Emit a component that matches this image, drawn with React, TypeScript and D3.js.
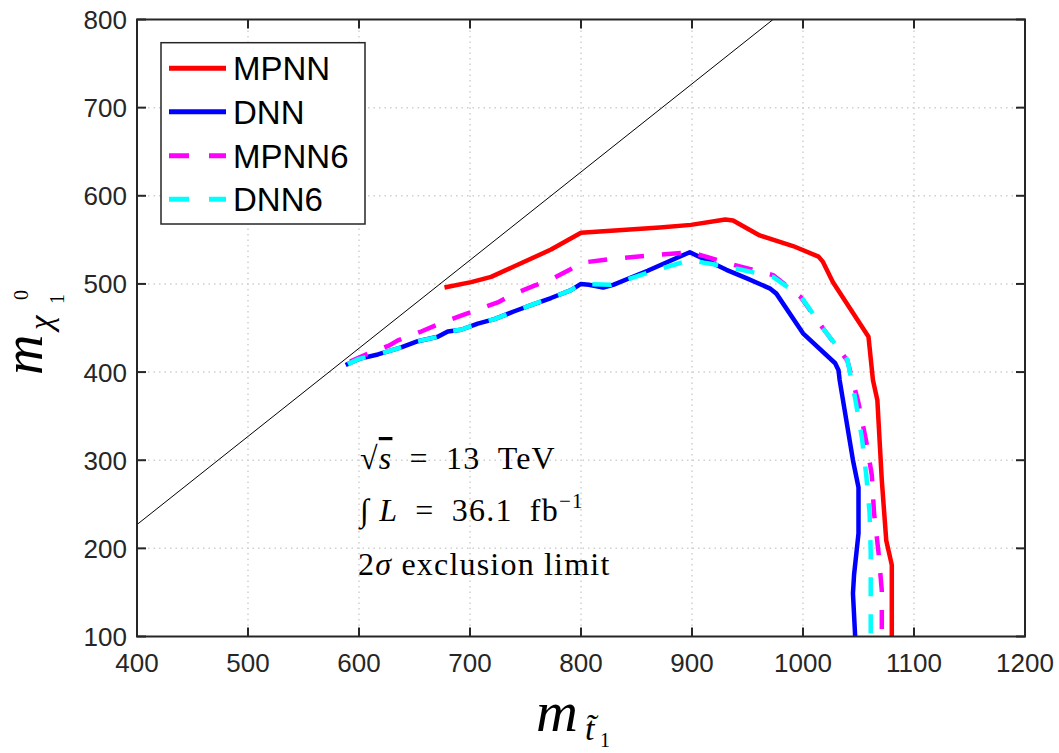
import React from "react";
import * as d3 from "d3";

const W = 1059;
const H = 753;

const xTicks = [400, 500, 600, 700, 800, 900, 1000, 1100, 1200];
const yTicks = [100, 200, 300, 400, 500, 600, 700, 800];

const mpnnX = [677, 701, 719, 740, 773, 800, 871, 899, 930, 937, 961, 991, 1014, 1018, 1027, 1059, 1063, 1067, 1071, 1075, 1080, 1080];
const mpnnY = [496, 502, 508, 520, 539, 558, 564, 567, 573, 572, 555, 543, 531, 525, 502, 440, 391, 368, 277, 209, 181, 100];

const dnnX = [588, 600, 617, 638, 653, 671, 680, 692, 707, 722, 740, 755, 773, 791, 800, 807, 820, 829, 860, 898, 931, 950, 970, 976, 1000, 1029, 1032, 1033, 1045, 1050, 1050, 1046, 1045, 1047];
const dnnY = [408, 415, 420, 428, 435, 440, 446, 448, 455, 460, 469, 476, 484, 493, 500, 499, 496, 499, 515, 536, 516, 506, 495, 489, 444, 410, 402, 391, 300, 269, 217, 170, 149, 100];

const mpnn6X = [592, 610, 627, 635, 656, 671, 692, 705, 725, 738, 758, 773, 791, 800, 826, 868, 898, 907, 937, 973, 998, 1019, 1040, 1050, 1057, 1062, 1064, 1068, 1071, 1071];
const mpnn6Y = [412, 422, 430, 436, 446, 454, 464, 470, 479, 488, 498, 505, 517, 524, 528, 533, 536, 533, 522, 510, 485, 448, 413, 365, 321, 283, 240, 196, 152, 100];

const dnn6X = [590, 600, 617, 638, 653, 671, 680, 692, 707, 722, 740, 755, 773, 791, 800, 827, 866, 898, 911, 931, 973, 998, 1019, 1040, 1047, 1053, 1057, 1060, 1061, 1061, 1061];
const dnn6Y = [409, 415, 420, 428, 435, 440, 446, 448, 455, 460, 469, 476, 484, 493, 500, 499, 515, 527, 524, 520, 508, 486, 448, 414, 370, 326, 283, 240, 196, 152, 100];

const diagX = [400, 973];
const diagY = [227, 800];

const seriesNames = ["MPNN", "DNN", "MPNN6", "DNN6"];
const seriesColors = ["#ff0000", "#0000ff", "#ff00ff", "#00ffff"];
const seriesDashed = [false, false, true, true];

const left = 137;
const right = 1025;
const top = 19.5;
const bottom = 636.5;

export default function App() {
  const x = d3.scaleLinear().domain([400, 1200]).range([left, right]);
  const y = d3.scaleLinear().domain([100, 800]).range([bottom, top]);

  const line = d3
    .line<[number, number]>()
    .x((d) => x(d[0]))
    .y((d) => y(d[1]));

  const zip = (a: number[], b: number[]) => a.map((v, i) => [v, b[i]] as [number, number]);

  const series = [
    zip(mpnnX, mpnnY),
    zip(dnnX, dnnY),
    zip(mpnn6X, mpnn6Y),
    zip(dnn6X, dnn6Y),
  ];

  const axisColor = "#262626";
  const tickFont = "'Liberation Sans', Arial, Helvetica, sans-serif";
  const serif = "'Liberation Serif', 'Times New Roman', serif";

  const legendX = 161;
  const legendY = 42.7;
  const legendW = 204;
  const legendH = 181.3;
  const rowY = [68.3, 111.7, 155.7, 199.3];

  return (
    <svg
      width={W}
      height={H}
      style={{ position: "absolute", left: 0, top: 0, background: "#fff" }}
    >
      <rect x={0} y={0} width={W} height={H} fill="#fff" />
      <defs>
        <clipPath id="plotClip">
          <rect x={left} y={top} width={right - left} height={bottom - top} />
        </clipPath>
      </defs>
      <g stroke="#d0d0d0" strokeWidth={1.5} strokeDasharray="1.5,4">
        {xTicks.slice(1, -1).map((t) => (
          <line key={"gx" + t} x1={x(t)} x2={x(t)} y1={top} y2={bottom} />
        ))}
        {yTicks.slice(1, -1).map((t) => (
          <line key={"gy" + t} x1={left} x2={right} y1={y(t)} y2={y(t)} />
        ))}
      </g>
      <g clipPath="url(#plotClip)">
        <path
          d={line(zip(diagX, diagY)) || ""}
          fill="none"
          stroke="#000"
          strokeWidth={1}
        />
        {series.map((s, i) => (
          <path
            key={seriesNames[i]}
            d={line(s) || ""}
            fill="none"
            stroke={seriesColors[i]}
            strokeWidth={4.5}
            strokeLinejoin="round"
            strokeDasharray={seriesDashed[i] ? "19,18" : undefined}
          />
        ))}
      </g>
      <rect
        x={left}
        y={top}
        width={right - left}
        height={bottom - top}
        fill="none"
        stroke={axisColor}
        strokeWidth={2}
      />
      <g stroke={axisColor} strokeWidth={2}>
        {xTicks.map((t) => (
          <g key={"tx" + t}>
            <line x1={x(t)} x2={x(t)} y1={bottom} y2={bottom - 9} />
            <line x1={x(t)} x2={x(t)} y1={top} y2={top + 9} />
          </g>
        ))}
        {yTicks.map((t) => (
          <g key={"ty" + t}>
            <line x1={left} x2={left + 9} y1={y(t)} y2={y(t)} />
            <line x1={right} x2={right - 9} y1={y(t)} y2={y(t)} />
          </g>
        ))}
      </g>
      <g fill={axisColor} fontFamily={tickFont} fontSize={26}>
        {xTicks.map((t) => (
          <text key={"lx" + t} x={x(t)} y={bottom + 35} textAnchor="middle">
            {t}
          </text>
        ))}
        {yTicks.map((t) => (
          <text key={"ly" + t} x={left - 10} y={y(t) + 9.5} textAnchor="end">
            {t}
          </text>
        ))}
      </g>
      {/* x label */}
      <g fontFamily={serif} fontStyle="italic" fill="#000">
        <text x={536} y={731} fontSize={58}>m</text>
        <text x={585} y={740} fontSize={34}>{"t\u0303"}</text>
        <text x={600} y={747} fontSize={20} fontStyle="normal">1</text>
      </g>
      {/* y label */}
      <g
        fontFamily={serif}
        fontStyle="italic"
        fill="#000"
        transform="translate(42,374) rotate(-90)"
      >
        <text x={-1} y={0} fontSize={56}>m</text>
        <text x={44} y={10} fontSize={33}>χ</text>
        <text x={74} y={-14} fontSize={20} fontStyle="normal">0</text>
        <text x={70} y={22} fontSize={20} fontStyle="normal">1</text>
      </g>
      {/* annotations */}
      <g fontFamily={serif} fill="#000" fontSize={32} letterSpacing={1.2}>
        <text x={360} y={469}>
          √<tspan fontStyle="italic" style={{ textDecoration: "overline" }}>s</tspan>
          {"\u2002=\u200213\u2002TeV"}
        </text>
        <text x={360} y={521}>
          ∫ <tspan fontStyle="italic">L</tspan>
          {"\u2002=\u200236.1\u2002fb"}
          <tspan dy={-13} fontSize={21}>−1</tspan>
        </text>
        <text x={358} y={575}>
          2<tspan fontStyle="italic">σ</tspan> exclusion limit
        </text>
      </g>
      {/* legend */}
      <rect
        x={legendX}
        y={legendY}
        width={legendW}
        height={legendH}
        fill="#fff"
        stroke={axisColor}
        strokeWidth={1.5}
      />
      {seriesNames.map((n, i) => (
        <g key={"lg" + n}>
          <line
            x1={169}
            x2={226}
            y1={rowY[i]}
            y2={rowY[i]}
            stroke={seriesColors[i]}
            strokeWidth={5}
            strokeDasharray={seriesDashed[i] ? "20,20" : undefined}
          />
          <text
            x={233}
            y={rowY[i] + 12}
            fontFamily={tickFont}
            fontSize={33}
            fill="#000"
          >
            {n}
          </text>
        </g>
      ))}
    </svg>
  );
}
